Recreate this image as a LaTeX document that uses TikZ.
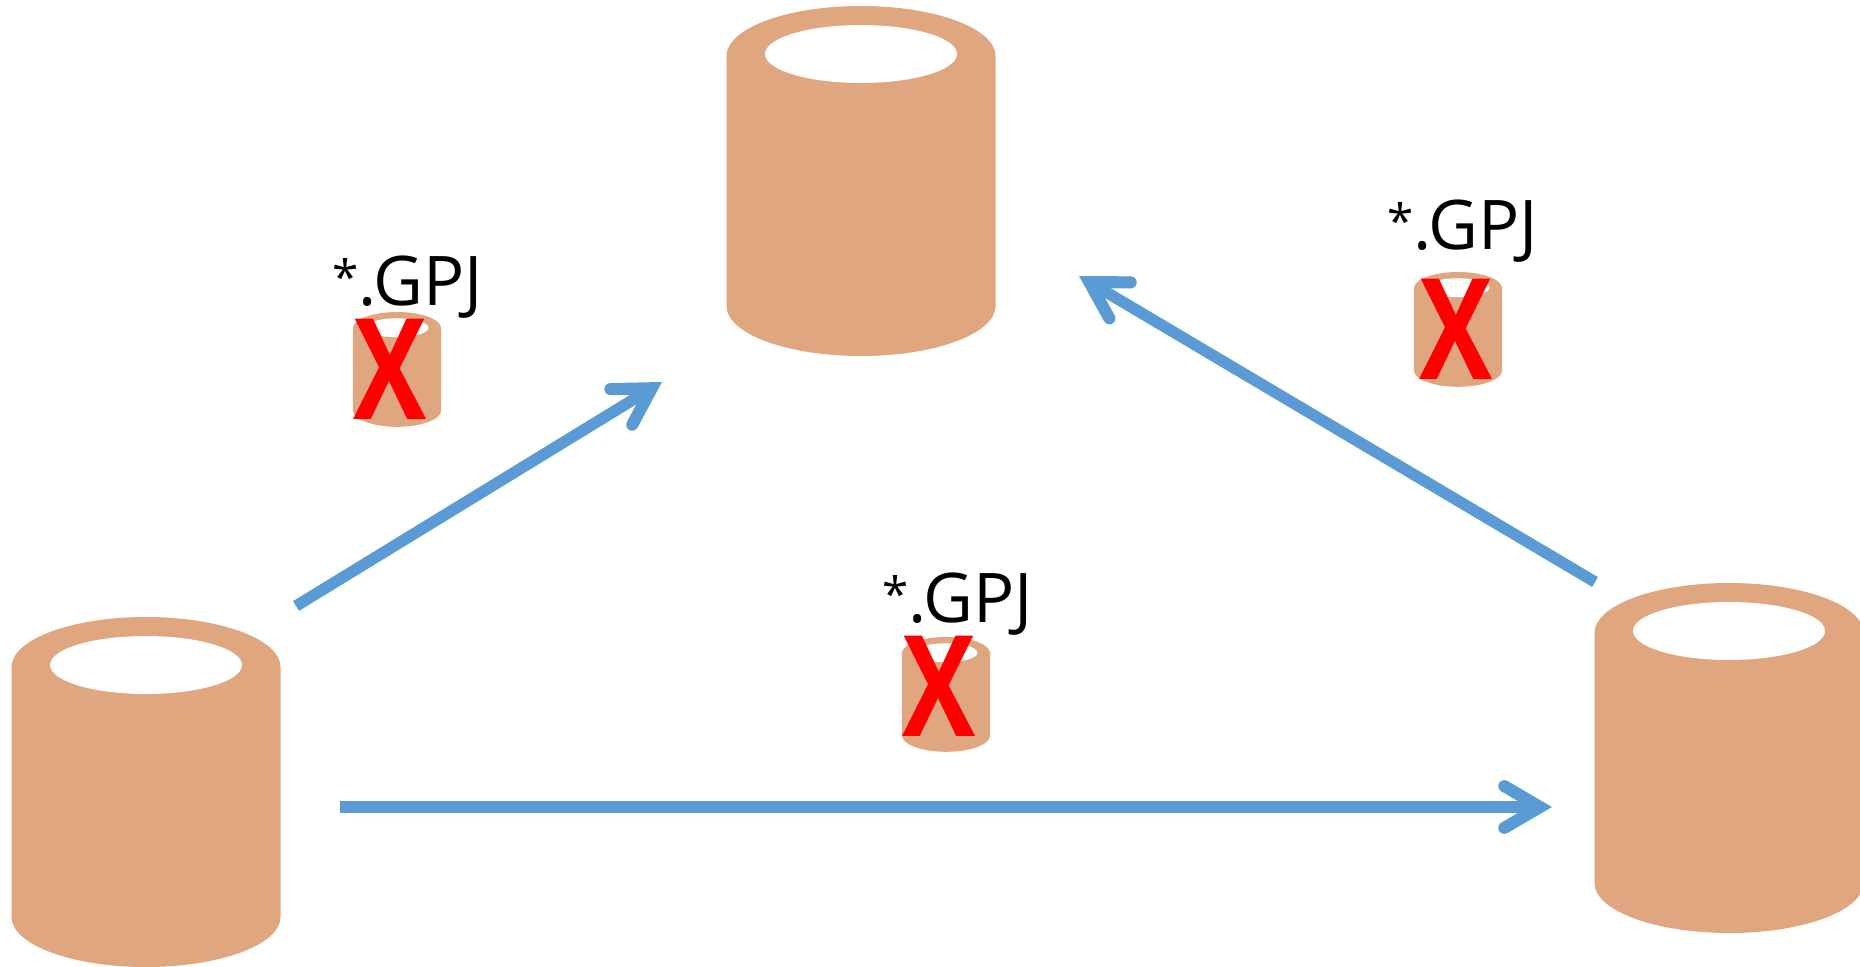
\documentclass[tikz,border=0pt]{standalone}
\usepackage{fontspec}
\usetikzlibrary{arrows.meta}
\setmainfont{Open Sans}
\definecolor{dbcolor}{HTML}{DFA67F}
\definecolor{flowcolor}{HTML}{5B9BD5}

% filled head with a sharp point and rounded barbs
\pgfdeclarearrow{
  name=RoundHead,
  setup code={
    \pgfarrowssettipend{0pt}
    \pgfarrowssetlineend{-13pt}
    \pgfarrowssetvisualbackend{-30pt}
  },
  drawing code={
    \pgfpathmoveto{\pgfqpoint{0pt}{0pt}}
    \pgfpathlineto{\pgfqpoint{-25.5pt}{14.9pt}}
    \pgfpathlineto{\pgfqpoint{-29pt}{9pt}}
    \pgfpathlineto{\pgfqpoint{-13.7pt}{0pt}}
    \pgfpathlineto{\pgfqpoint{-29pt}{-9pt}}
    \pgfpathlineto{\pgfqpoint{-25.5pt}{-14.9pt}}
    \pgfpathclose
    \pgfusepathqfill
    \pgfpathcircle{\pgfqpoint{-27.2pt}{11.9pt}}{3.4pt}
    \pgfpathcircle{\pgfqpoint{-27.2pt}{-11.9pt}}{3.4pt}
    \pgfusepathqfill
  }
}

\tikzset{
  dbcyl/.pic={
    \begin{scope}
    \clip (-140,0) rectangle (140,349.5);
    \fill[dbcolor] (-134.5,50) .. controls (-134.5,22.4) and (-74.3,0) .. (0,0)
      .. controls (74.3,0) and (134.5,22.4) .. (134.5,50) -- (134.5,300)
      .. controls (134.5,327.6) and (74.3,350) .. (0,350)
      .. controls (-74.3,350) and (-134.5,327.6) .. (-134.5,300) -- cycle;
    \end{scope}
    \fill[white] (0,48) ellipse [x radius=96, y radius=29];
  }
}

\begin{document}
\begin{tikzpicture}[x=0.02cm, y=-0.02cm]
\tikzstyle{flow} = [draw=flowcolor, line width=6.5pt, -{RoundHead}]
\tikzstyle{gpj} = [inner sep=0pt, anchor=base, font=\fontsize{39}{39}\selectfont]
\tikzstyle{cross} = [inner sep=0pt, text=red, xscale=0.78, transform shape, font=\fontsize{80}{80}\selectfont\bfseries]
\newcommand{\gpjtext}{\raisebox{6pt}{\fontsize{27}{27}\selectfont *}.GPJ}

\useasboundingbox (0,0) rectangle (1860,967);

% big cylinders
\pic (dbA) at (146,617) {dbcyl};
\pic (dbB) at (861,6) {dbcyl};
\pic (dbC) at (1729,583) {dbcyl};

% small cylinders
\pic[scale=0.328] (smallA) at (397,312) {dbcyl};
\pic[scale=0.328] (smallB) at (1458,272) {dbcyl};
\pic[scale=0.328] (smallC) at (946,637) {dbcyl};

\node[cross] (crossA) at (390,369) {X};
\node[cross] (crossB) at (1456,329) {X};
\node[cross] (crossC) at (939,686) {X};

\node[gpj] (gpjA) at (408,305) {\gpjtext};
\node[gpj] (gpjB) at (1463,249) {\gpjtext};
\node[gpj] (gpjC) at (958,622) {\gpjtext};

\coordinate (AoutB) at (296,606);
\coordinate (BinA) at (662,382);
\coordinate (CoutB) at (1595,582);
\coordinate (BinC) at (1079,276);
\coordinate (AoutC) at (340,807);
\coordinate (CinA) at (1552,807);

\path[flow] (AoutB) -- (BinA);
\path[flow] (CoutB) -- (BinC);
\path[flow] (AoutC) -- (CinA);
\end{tikzpicture}
\end{document}
